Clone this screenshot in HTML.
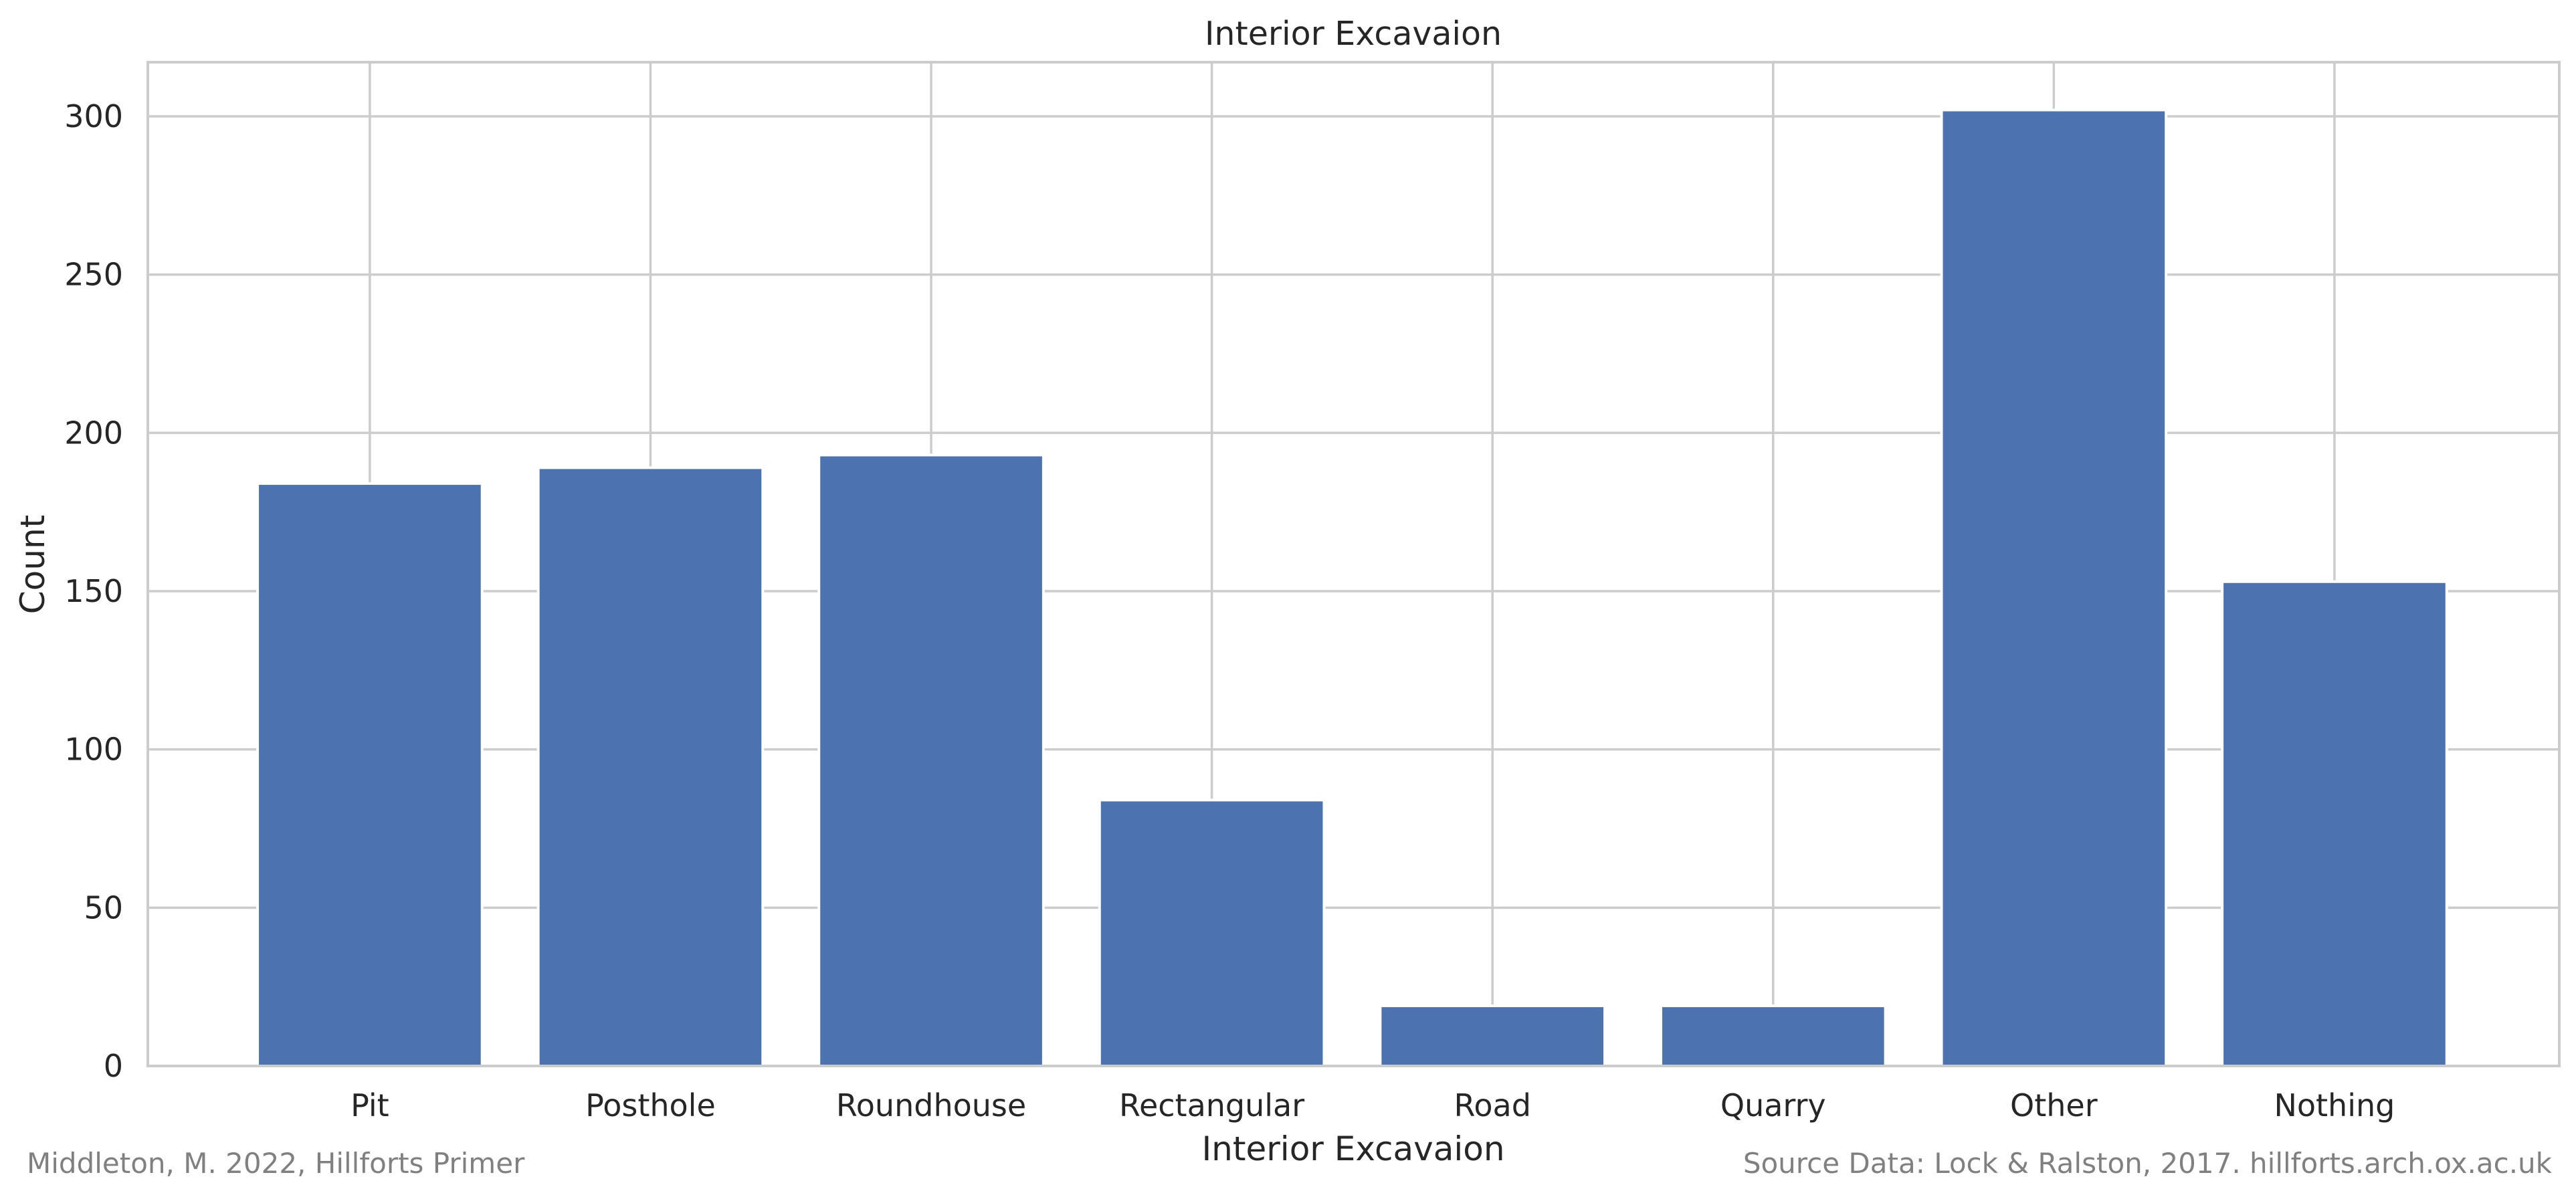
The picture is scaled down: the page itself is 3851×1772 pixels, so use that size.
<!DOCTYPE html>
<html><head><meta charset="utf-8"><style>
html,body{margin:0;padding:0;background:#fff;}
svg{display:block;}
text{font-family:"DejaVu Sans","Liberation Sans",sans-serif;}
</style></head><body>
<svg id="chart" width="3851" height="1772" viewBox="0 0 3851 1772" xmlns="http://www.w3.org/2000/svg">
<rect x="0" y="0" width="3851" height="1772" fill="#fff"/>
<g id="grid"></g>
<g id="bars"></g>
<g id="xticks"></g>
<g id="yticks"></g>
<rect x="221" y="93" width="3605" height="1501" fill="none" stroke="#cccccc" stroke-width="4"/>
<text x="2023" y="67" font-size="49" fill="#262626" text-anchor="middle">Interior Excavaion</text>
<text x="2023" y="1735" font-size="50" fill="#262626" text-anchor="middle">Interior Excavaion</text>
<text x="0" y="0" font-size="50" fill="#262626" text-anchor="middle" transform="translate(66,844) rotate(-90)">Count</text>
<text x="40" y="1754" font-size="42" fill="#808080">Middleton, M. 2022, Hillforts Primer</text>
<text x="3815" y="1754" font-size="42" fill="#808080" text-anchor="end">Source Data: Lock &amp; Ralston, 2017. hillforts.arch.ox.ac.uk</text>
</svg>
<script>
const categories = ["Pit","Posthole","Roundhouse","Rectangular","Road","Quarry","Other","Nothing"];
const counts = [184,189,193,84,19,19,302,153];
const yTicks = [0,50,100,150,200,250,300];

const NS = "http://www.w3.org/2000/svg";
const L = 221, R = 3826, T = 93, B = 1594;
const xMin = -0.791, xMax = 7.801, yMax = 317.1;
function xs(i){ return L + (i - xMin) / (xMax - xMin) * (R - L); }
function ys(v){ return B - v / yMax * (B - T); }
const bw = 0.8 * (R - L) / (xMax - xMin);
function mk(tag, attrs, parent){
  const e = document.createElementNS(NS, tag);
  for (const k in attrs) e.setAttribute(k, attrs[k]);
  parent.appendChild(e);
  return e;
}
const grid = document.getElementById('grid');
const bars = document.getElementById('bars');
const xt = document.getElementById('xticks');
const yt = document.getElementById('yticks');

yTicks.forEach(v => {
  const y = ys(v);
  const g = mk('line', {x1:L, x2:R, y1:y, y2:y, stroke:'#cccccc', 'stroke-width':3.5}, grid);
  
  
  const t = mk('text', {x:184, y:y+16, 'font-size':46, fill:'#262626', 'text-anchor':'end'}, yt);
  t.textContent = v;
  
  
});
categories.forEach((c, i) => {
  const x = xs(i);
  const g = mk('line', {x1:x, x2:x, y1:T, y2:B, stroke:'#cccccc', 'stroke-width':3.5}, grid);
  
  
  const y = ys(counts[i]);
  const r = mk('rect', {x:x-bw/2, y:y, width:bw, height:B-y, fill:'#4c72b0', stroke:'#ffffff', 'stroke-width':4}, bars);
  
  
  const t = mk('text', {x:x, y:1669, 'font-size':46, fill:'#262626', 'text-anchor':'middle'}, xt);
  t.textContent = c;
  
  
});
</script>
</body></html>
